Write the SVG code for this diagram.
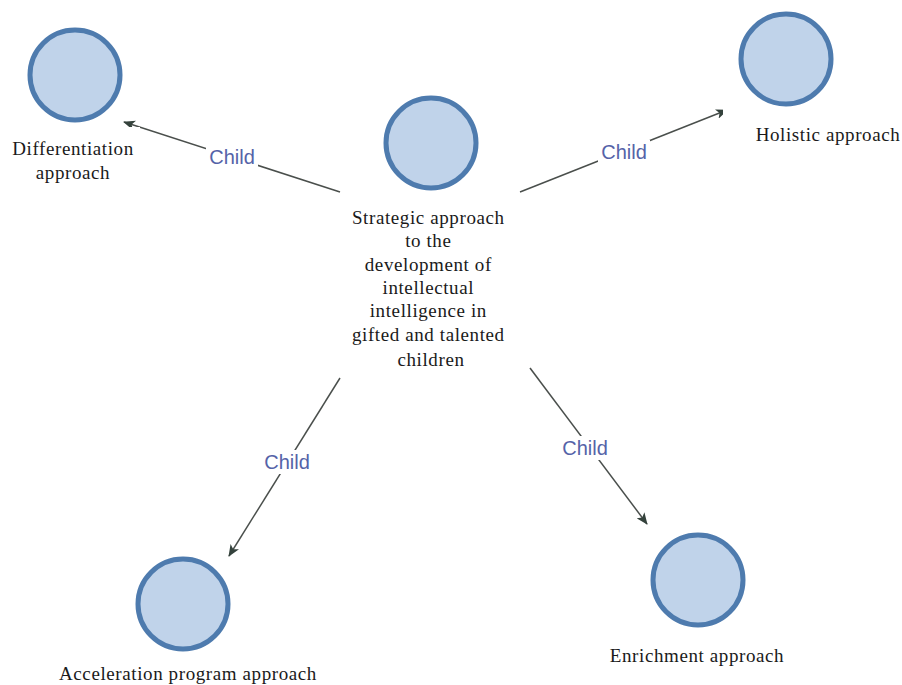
<svg xmlns="http://www.w3.org/2000/svg" width="902" height="685" viewBox="0 0 902 685">
<style>
.node circle{fill:#c0d3ea;stroke:#4e7bae;stroke-width:5}
.lbl{font-family:"Liberation Serif",serif;font-size:19px;letter-spacing:0.6px;fill:#1a1a1a;text-anchor:middle}
.edge{stroke:#4a4f4c;stroke-width:1.5;fill:none;marker-end:url(#ah)}
.el{font-family:"Liberation Sans",Arial,sans-serif;font-size:20px;fill:#5563a8;text-anchor:middle}
.bg{fill:#ffffff}
</style>
<defs>
<marker id="ah" viewBox="0 0 12 10" refX="11" refY="5" markerWidth="12" markerHeight="10" markerUnits="userSpaceOnUse" orient="auto">
<path d="M0,0 L12,5 L0,10 L3,5 Z" fill="#34423c"/>
</marker>
<clipPath id="cc"><rect x="333" y="195" width="196" height="173"/></clipPath>
</defs>
<rect width="902" height="685" fill="#ffffff"/>
<g id="connectors">
<line class="edge" x1="340" y1="192" x2="124" y2="122"/>
<line class="edge" x1="520" y1="192" x2="727" y2="110"/>
<line class="edge" x1="340" y1="378" x2="229" y2="556"/>
<line class="edge" x1="530" y1="368" x2="647" y2="524"/>
<rect class="bg" x="206" y="145" width="52" height="24"/>
<text class="el" x="232" y="164">Child</text>
<rect class="bg" x="598" y="140" width="52" height="24"/>
<text class="el" x="624" y="159">Child</text>
<rect class="bg" x="261" y="450" width="52" height="24"/>
<text class="el" x="287" y="469">Child</text>
<rect class="bg" x="559" y="436" width="52" height="24"/>
<text class="el" x="585" y="455">Child</text>
</g>
<g id="center">
<g class="node"><circle cx="431" cy="143" r="45"/></g>
<rect class="bg" x="333" y="195" width="196" height="173"/>
<text class="lbl" clip-path="url(#cc)">
<tspan x="431" y="224">Strategic approach</tspan>
<tspan x="431" y="247">to the</tspan>
<tspan x="431" y="271">development of</tspan>
<tspan x="431" y="294">intellectual</tspan>
<tspan x="431" y="317">intelligence in</tspan>
<tspan x="431" y="341">gifted and talented</tspan>
<tspan x="431" y="366">children</tspan>
</text>
</g>
<g id="differentiation">
<g class="node"><circle cx="75" cy="75" r="45"/></g>
<rect class="bg" x="0" y="127" width="140" height="63"/>
<text class="lbl"><tspan x="73" y="155">Differentiation</tspan><tspan x="73" y="179">approach</tspan></text>
</g>
<g id="holistic">
<g class="node"><circle cx="786" cy="59" r="45"/></g>
<rect class="bg" x="723" y="108" width="179" height="40"/>
<text class="lbl" x="828" y="141">Holistic approach</text>
</g>
<g id="acceleration">
<g class="node"><circle cx="183" cy="604" r="45"/></g>
<text class="lbl" x="188" y="680">Acceleration program approach</text>
</g>
<g id="enrichment">
<g class="node"><circle cx="698" cy="580" r="45"/></g>
<text class="lbl" x="697" y="662">Enrichment approach</text>
</g>
</svg>
